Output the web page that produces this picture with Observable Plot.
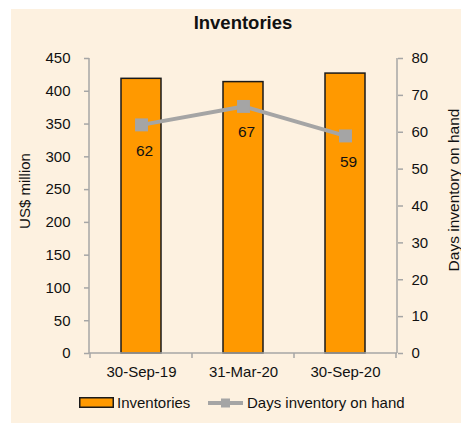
<!DOCTYPE html>
<html>
<head>
<meta charset="utf-8">
<script src="https://cdn.jsdelivr.net/npm/d3@7"></script>
<script src="https://cdn.jsdelivr.net/npm/@observablehq/plot@0.6"></script>
<style>
  html, body { margin: 0; padding: 0; background: #ffffff; }
  body { width: 461px; height: 423px; position: relative; overflow: hidden; font-family: "Liberation Sans", Arial, sans-serif; }
  #panel { position: absolute; left: 11px; top: 9px; width: 450px; height: 414px; background: #FDF1E0; }
  #title { position: absolute; left: 89px; width: 308px; top: 12px; text-align: center; font-weight: bold; font-size: 18.5px; color: #111; }
  #chart { position: absolute; left: 0; top: 0; }
  #legend { position: absolute; left: 0; top: 394px; width: 461px; height: 20px; font-size: 15px; color: #111; }
  #legend .item { position: absolute; top: 0; white-space: nowrap; }
</style>
</head>
<body>
<div id="panel"></div>
<div id="title">Inventories</div>
<div id="chart"></div>
<div id="legend"></div>
<script>
const categories = ["30-Sep-19", "31-Mar-20", "30-Sep-20"];
const inventories = [419, 414, 427];          // US$ million (left axis)
const daysOnHand = [62, 67, 59];              // days (right axis)
const leftTicks = [0, 50, 100, 150, 200, 250, 300, 350, 400, 450];
const rightTicks = [0, 10, 20, 30, 40, 50, 60, 70, 80];
const seriesNames = ["Inventories", "Days inventory on hand"];

const leftMax = 450, rightMax = 80;
const toLeft = d => d * leftMax / rightMax;

const barColor = "#FF9900";
const lineColor = "#A5A5A5";
const axisColor = "#A6A6A6";
const textColor = "#111";

const rows = categories.map((c, i) => ({cat: c, inv: inventories[i], days: daysOnHand[i], daysY: toLeft(daysOnHand[i])}));

function axisLines(index, scales, values, dims) {
  const g = d3.create("svg:g");
  const x = scales.x, y = scales.y;
  const bw = x.bandwidth();
  const x0 = dims.marginLeft, x1 = dims.width - dims.marginRight;
  const yb = y(0), yt = y(leftMax);
  const s = {stroke: axisColor, "stroke-width": 1.5};
  const line = (a, b, c, d) => { const l = g.append("line").attr("x1", a).attr("y1", b).attr("x2", c).attr("y2", d); for (const k in s) l.attr(k, s[k]); };
  line(x0, yt, x0, yb);
  line(x1, yt, x1, yb);
  line(x0, yb, x1, yb);
  const bounds = categories.map(c => x(c)).concat([x(categories[categories.length - 1]) + bw]);
  for (const b of bounds) line(b, yb, b, yb + 5);
  return g.node();
}

const plot = Plot.plot({
  width: 461,
  height: 385,
  marginLeft: 89,
  marginRight: 64,
  marginTop: 58,
  marginBottom: 32,
  style: {background: "transparent", fontFamily: "Liberation Sans, Arial, sans-serif", fontSize: "15px", color: textColor},
  x: {type: "band", domain: categories, padding: 0},
  y: {domain: [0, leftMax]},
  marks: [
    Plot.barY(rows, {x: "cat", y: "inv", fill: barColor, stroke: "#1a1a1a", strokeWidth: 1.5, insetLeft: 31, insetRight: 31}),
    axisLines,
    Plot.axisY({anchor: "left", ticks: leftTicks, tickSize: 5, tickPadding: 14, stroke: axisColor, strokeWidth: 1.5, fontSize: 15, label: null}),
    Plot.axisY({anchor: "right", ticks: rightTicks.map(toLeft), tickFormat: d => String(Math.round(d * rightMax / leftMax)), tickSize: 5, tickPadding: 9, stroke: axisColor, strokeWidth: 1.5, fontSize: 15, label: null}),
    Plot.axisX({anchor: "bottom", tickSize: 0, tickPadding: 13, fontSize: 15, label: null}),
    Plot.text(["US$ million"], {frameAnchor: "left", textAnchor: "middle", dx: -64, dy: -15, rotate: -90, fontSize: 15, fill: textColor}),
    Plot.text(["Days inventory on hand"], {frameAnchor: "right", textAnchor: "middle", dx: 57, dy: -16, rotate: -90, fontSize: 15.5, fill: textColor}),
    Plot.line(rows, {x: "cat", y: "daysY", stroke: lineColor, strokeWidth: 4}),
    Plot.dot(rows, {x: "cat", y: "daysY", symbol: "square", r: 7.3, fill: lineColor, stroke: "none"}),
    Plot.text(rows, {x: "cat", y: "daysY", text: d => String(d.days), dx: 3, dy: 26, fontSize: 15.5, fill: textColor})
  ]
});
document.getElementById("chart").appendChild(plot);

// Legend
const legend = document.getElementById("legend");
legend.innerHTML = `
  <svg class="item" style="left:79px;top:3px" width="36" height="12"><rect x="0.75" y="0.75" width="33.5" height="9.5" fill="${barColor}" stroke="#1a1a1a" stroke-width="1.5"/></svg>
  <span class="item" style="left:117px">${seriesNames[0]}</span>
  <svg class="item" style="left:207px;top:2px" width="38" height="14"><line x1="1" y1="7" x2="36" y2="7" stroke="${lineColor}" stroke-width="4"/><rect x="14" y="2.5" width="9" height="9" fill="${lineColor}"/></svg>
  <span class="item" style="left:247px">${seriesNames[1]}</span>
`;
</script>
</body>
</html>
